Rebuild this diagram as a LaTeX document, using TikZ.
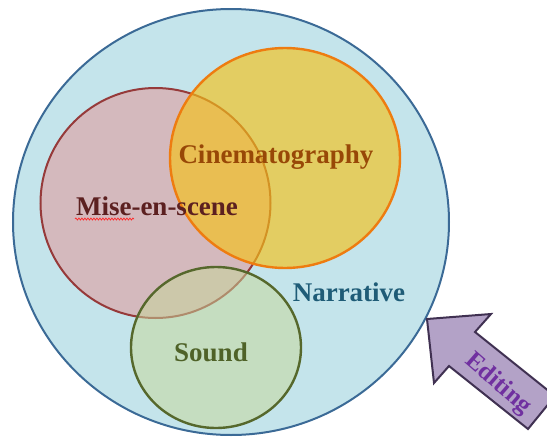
\documentclass[tikz,border=0pt]{standalone}
\usepackage{fontspec}
\setmainfont{Liberation Serif}
\usetikzlibrary{decorations.pathmorphing}
\definecolor{narrfill}{HTML}{C4E4EB}
\definecolor{narrline}{HTML}{3B6A96}
\definecolor{narrtext}{HTML}{1F5C77}
\definecolor{misefill}{HTML}{D4B9BD}
\definecolor{miseline}{HTML}{963A3A}
\definecolor{misetext}{HTML}{5C2020}
\definecolor{cinefill}{RGB}{245,194,25}
\definecolor{cineline}{HTML}{EE7C10}
\definecolor{cinetext}{HTML}{984807}
\definecolor{soundfill}{RGB}{198,215,154}
\definecolor{soundline}{HTML}{56682C}
\definecolor{soundtext}{HTML}{4F6228}
\definecolor{editfill}{HTML}{B3A2C7}
\definecolor{editline}{HTML}{403152}
\definecolor{edittext}{HTML}{7030A0}

\begin{document}
\begin{tikzpicture}[x=1pt,y=-1pt,
	lbl/.style={font=\bfseries\fontsize{27}{31}\selectfont},
	ring/.style={line width=2}]
	\useasboundingbox (0,0) rectangle (547,437);
	% narrative
	\draw[ring,draw=narrline,fill=narrfill] (231,222) ellipse [x radius=218, y radius=213];
	% mise-en-scene
	\draw[ring,draw=miseline,fill=misefill] (155.5,203) circle [radius=115];
	% cinematography
	\draw[ring,line width=2.4,draw=cineline,fill=cinefill,fill opacity=0.65] (285,158) ellipse [x radius=115, y radius=110];
	% sound
	\draw[ring,line width=2.4,draw=soundline,fill=soundfill,fill opacity=0.52] (216,347.5) ellipse [x radius=85, y radius=80.5];
	\node[lbl,text=cinetext] (cine) at (276,157) {Cinematography};
	\node[lbl,text=misetext] (mise) at (157,206) {Mise-en-scene};
	\node[lbl,text=narrtext] (narr) at (349,292.5) {Narrative};
	\node[lbl,text=soundtext] (sound) at (211,352) {Sound};
	%\draw (mise.south west) -- (mise.south east);
	\draw[red!85,line width=0.7,decorate,decoration={snake,amplitude=1pt,segment length=3pt}] (75,219) -- (134,219);
	% editing arrow
	\draw[line width=2,draw=editline,fill=editfill,line join=miter]
		(427,319)--(491,314)--(475,332)--(555,396)--(528,429)--(449,366)--(434,383)--cycle;
	\node[font=\bfseries\fontsize{25}{28}\selectfont,text=edittext,rotate=-41] (edit) at (498,384) {Editing};
\end{tikzpicture}
\end{document}
